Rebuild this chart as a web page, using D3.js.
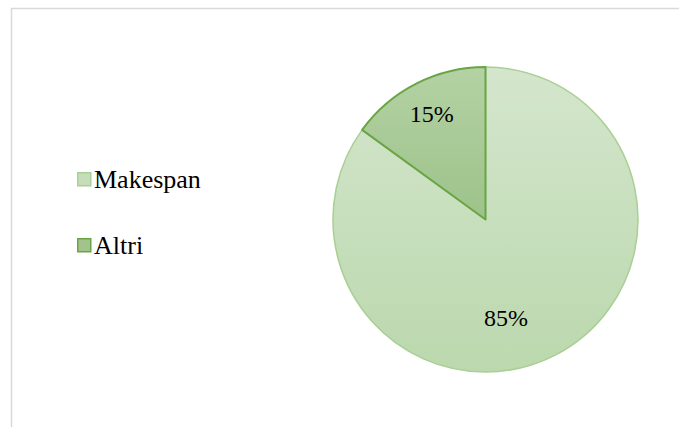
<!DOCTYPE html>
<html>
<head>
<meta charset="utf-8">
<script src="https://cdn.jsdelivr.net/npm/d3@7"></script>
<style>
  html, body { margin: 0; padding: 0; background: #fff; }
  svg { display: block; }
  svg text { font-family: "Liberation Serif", "Times New Roman", Times, serif; }
</style>
</head>
<body>
<svg id="chart" width="679" height="427"></svg>
<script>
// Share of total time per component
const categories = ["Makespan", "Altri"];
const values = [85, 15];
const labels = ["85%", "15%"];

const W = 679, H = 427;
const svg = d3.select("#chart");

// Chart area frame (extends beyond the right and bottom edges)
svg.append("rect")
  .attr("x", 11.5).attr("y", 8.5)
  .attr("width", W + 20).attr("height", H + 20)
  .attr("fill", "#fff")
  .attr("stroke", "#d9d9d9")
  .attr("stroke-width", 1.5);

const cx = 485.5, cy = 219.5, r = 152.5;

const fills = [
  { id: "gMake", top: "#d4e6cc", bottom: "#bbd8ae", stroke: "#a9cf93", sw: 1.5, key: "#c6ddba" },
  { id: "gAltri", top: "#b4d2a4", bottom: "#86b36f", stroke: "#6aa545", sw: 2, key: "#a2c48c" }
];

// Vertical gradients spanning the full pie height
const defs = svg.append("defs");
fills.forEach(f => {
  const gr = defs.append("linearGradient")
    .attr("id", f.id)
    .attr("gradientUnits", "userSpaceOnUse")
    .attr("x1", 0).attr("y1", -r)
    .attr("x2", 0).attr("y2", r);
  gr.append("stop").attr("offset", "0%").attr("stop-color", f.top);
  gr.append("stop").attr("offset", "100%").attr("stop-color", f.bottom);
});

const pie = d3.pie().sort(null).value(d => d)(values);
const arc = d3.arc().innerRadius(0).outerRadius(r);

const g = svg.append("g").attr("transform", `translate(${cx},${cy})`);

g.selectAll("path.slice")
  .data(pie)
  .join("path")
  .attr("class", "slice")
  .attr("d", arc)
  .attr("fill", (d, i) => `url(#${fills[i].id})`)
  .attr("stroke", (d, i) => fills[i].stroke)
  .attr("stroke-width", (d, i) => fills[i].sw)
  .attr("stroke-linejoin", "round");

// Data labels placed inside each slice
function labelPos(d) {
  const span = d.endAngle - d.startAngle;
  const big = span > Math.PI;
  const a = d.startAngle + span * (big ? 0.55 : 0.5);
  const rr = r * (big ? 0.66 : 0.775);
  return [Math.sin(a) * rr, -Math.cos(a) * rr];
}

g.selectAll("text.lbl")
  .data(pie)
  .join("text")
  .attr("class", "lbl")
  .attr("x", d => labelPos(d)[0])
  .attr("y", d => labelPos(d)[1])
  .attr("text-anchor", "middle")
  .attr("dominant-baseline", "central")
  .attr("font-size", 24)
  .attr("fill", "#000")
  .text((d, i) => labels[i]);

// Legend
const legend = svg.append("g").attr("transform", "translate(77,172)");
const item = legend.selectAll("g")
  .data(categories)
  .join("g")
  .attr("transform", (d, i) => `translate(0,${i * 66})`);

item.append("rect")
  .attr("x", 0.75).attr("y", 0.75)
  .attr("width", 13).attr("height", 13)
  .attr("fill", (d, i) => fills[i].key)
  .attr("stroke", (d, i) => fills[i].stroke)
  .attr("stroke-width", 1.5);

item.append("text")
  .attr("x", 17)
  .attr("y", 16)
  .attr("font-size", 26)
  .attr("fill", "#000")
  .text(d => d);
</script>
</body>
</html>
